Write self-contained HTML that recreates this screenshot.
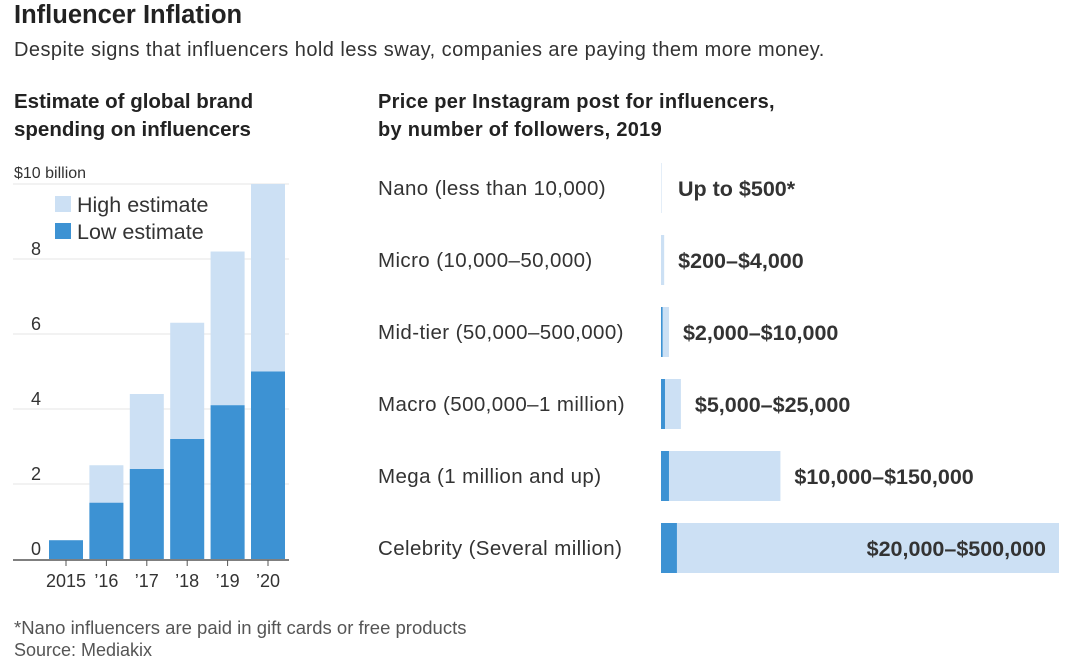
<!DOCTYPE html>
<html><head><meta charset="utf-8"><style>
body{margin:0;width:1067px;height:667px;background:#fff;font-family:"Liberation Sans",sans-serif;color:#333;overflow:hidden;position:relative}
.t{position:absolute;white-space:nowrap}
</style></head><body>
<div class="t" style="left:14px;top:1px;font-size:25.5px;font-weight:bold;color:#222">Influencer Inflation</div>
<div class="t" style="left:14px;top:39px;font-size:20px;letter-spacing:0.45px;color:#333">Despite signs that influencers hold less sway, companies are paying them more money.</div>
<div class="t" style="left:14px;top:88px;font-size:20.5px;font-weight:bold;line-height:28px;color:#222">Estimate of global brand<br>spending on influencers</div>
<div class="t" style="left:378px;top:88px;font-size:20px;letter-spacing:0.3px;font-weight:bold;line-height:28px;color:#222">Price per Instagram post for influencers,<br>by number of followers, 2019</div>
<div class="t" style="left:14px;top:617px;font-size:18.5px;color:#555">*Nano influencers are paid in gift cards or free products</div>
<div class="t" style="left:14px;top:640px;font-size:18px;color:#555">Source: Mediakix</div>
<svg id="s" width="1067" height="667" style="position:absolute;left:0;top:0"></svg>
<script>
const years=["2015","’16","’17","’18","’19","’20"];
const lowVals=[0.5,1.5,2.4,3.2,4.1,5.0];
const highVals=[0.5,2.5,4.4,6.3,8.2,10.0];
const yTicks=[0,2,4,6,8];
const tiers=["Nano (less than 10,000)","Micro (10,000–50,000)","Mid-tier (50,000–500,000)","Macro (500,000–1 million)","Mega (1 million and up)","Celebrity (Several million)"];
const priceLow=[0,200,2000,5000,10000,20000];
const priceHigh=[500,4000,10000,25000,150000,500000];
const priceLabels=["Up to $500*","$200–$4,000","$2,000–$10,000","$5,000–$25,000","$10,000–$150,000","$20,000–$500,000"];
const NS="http://www.w3.org/2000/svg";
const svg=document.getElementById('s');
function mk(tag,a,txt){const e=document.createElementNS(NS,tag);for(const k in a)e.setAttribute(k,a[k]);if(txt!==undefined)e.textContent=txt;svg.appendChild(e);return e;}
const y=v=>559-v*37.5;
const x=i=>49+i*40.4;
for(const t of yTicks){
 if(t>0){const g=mk('line',{x1:13,x2:289,y1:y(t),y2:y(t),stroke:'#e4e4e4','stroke-width':1});
 
 }
 const l=mk('text',{x:36,y:y(t)-4,'font-size':18,fill:'#333','text-anchor':'middle'},String(t));
 
 
}
const g10=mk('line',{x1:13,x2:289,y1:y(10),y2:y(10),stroke:'#e4e4e4'});


const yl=mk('text',{x:14,y:178,'font-size':16,fill:'#333'},'$10 billion');


years.forEach((yr,i)=>{
 const h=mk('rect',{x:x(i),y:y(highVals[i]),width:34,height:y(0)-y(highVals[i]),fill:'#cce0f4'});
 
 
 const lo=mk('rect',{x:x(i),y:y(lowVals[i]),width:34,height:y(0)-y(lowVals[i]),fill:'#3d92d3'});
 
 
 const tk=mk('line',{x1:x(i)+17,x2:x(i)+17,y1:560,y2:566,stroke:'#555'});
 
 
 const tl=mk('text',{x:x(i)+17,y:587,'font-size':18,fill:'#333','text-anchor':'middle'},yr);
 
 
});
const ax=mk('line',{x1:13,x2:289,y1:560,y2:560,stroke:'#555','stroke-width':1.5});


const lg1=mk('rect',{x:55,y:196,width:16,height:16,fill:'#cce0f4'});


const lt1=mk('text',{x:77,y:212,'font-size':21.5,fill:'#333'},'High estimate');


const lg2=mk('rect',{x:55,y:223,width:16,height:16,fill:'#3d92d3'});


const lt2=mk('text',{x:77,y:239,'font-size':21.5,fill:'#333'},'Low estimate');


const px=v=>661+v*398/500000;
tiers.forEach((t,i)=>{
 const cy=188+i*72;
 const tl=mk('text',{x:378,y:cy+7,'font-size':20.5,'letter-spacing':0.4,fill:'#333'},t);
 
 
 const hw=Math.max(1,px(priceHigh[i])-661);
 const hb=mk('rect',{x:661,y:cy-25,width:hw,height:50,fill:i==0?'#e4eef8':'#cce0f4'});
 
 
 const lw=px(priceLow[i])-661;
 if(lw>=1){
 const lb=mk('rect',{x:661,y:cy-25,width:lw,height:50,fill:'#3d92d3'});
 
 }
 const inside=i==tiers.length-1;
 const vl=mk('text',{x:inside?1046:Math.max(678,px(priceHigh[i])+14),y:cy+8,'font-size':21.5,'font-weight':'bold',fill:'#333','text-anchor':inside?'end':'start'},priceLabels[i]);
 
 
});
</script>
</body></html>
